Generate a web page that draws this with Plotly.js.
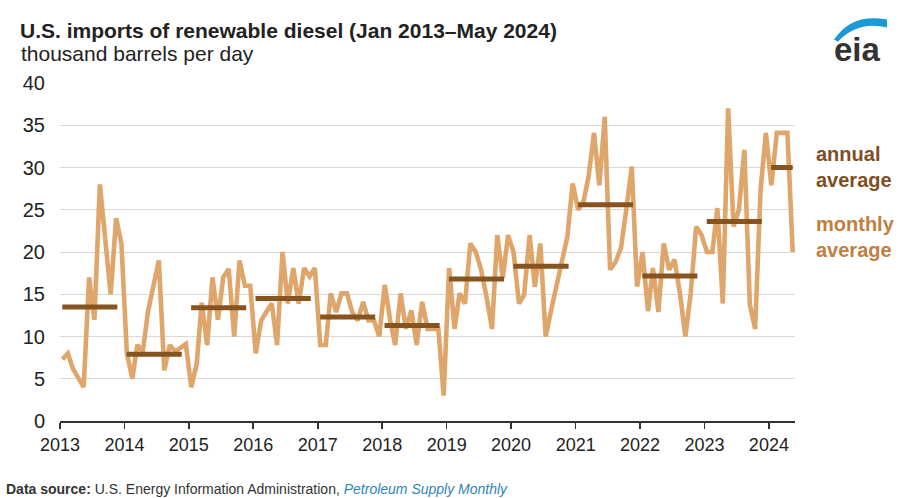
<!DOCTYPE html>
<html>
<head>
<meta charset="utf-8">
<script src="https://cdn.plot.ly/plotly-3.0.1.min.js"></script>
<style>
  html, body { margin: 0; padding: 0; background: #fff; }
  #chart { width: 915px; height: 498px; }
</style>
</head>
<body>
<div id="chart"></div>
<script>
// Monthly U.S. imports of renewable diesel, thousand barrels per day
const imports2013 = [7.3, 8, 6.2, 5, 4, 17, 12, 28, 21.5, 15, 24, 21];
const imports2014 = [8, 5, 9, 8.2, 13, 16, 19, 6, 9, 8.2, 8.6, 9.1];
const imports2015 = [4, 6.8, 14, 9, 17, 12, 17, 18, 10, 19, 16, 16];
const imports2016 = [8, 11.9, 12.9, 13.9, 9, 20, 13.9, 18.1, 13.9, 18.1, 17.1, 18.1];
const imports2017 = [9, 9, 15.1, 12.9, 15.1, 15.1, 12.9, 11.9, 14.1, 11.9, 11.9, 10];
const imports2018 = [16.1, 11.9, 9, 15.1, 10.9, 13.1, 9, 14.1, 10.9, 10.9, 10.9, 3];
const imports2019 = [18.1, 10.9, 15.1, 13.9, 21, 20, 17.9, 14.7, 10.9, 22, 16.9, 22];
const imports2020 = [20, 13.9, 14.9, 22, 15.9, 21, 10, 13.1, 16.1, 19.1, 21.8, 28.1];
const imports2021 = [25, 26, 28.9, 34.1, 27.9, 36, 17.9, 18.8, 20.5, 25, 30.1, 15.9];
const imports2022 = [20, 13, 18.1, 12.9, 21, 17.9, 19.1, 15.1, 10, 15.1, 23, 22];
const imports2023 = [20, 20, 25.2, 13.9, 37, 23, 25, 32.1, 13.8, 10.9, 27.4, 34.1];
const imports2024 = [27.9, 34.1, 34.1, 34.1, 20];

const years = [2013, 2014, 2015, 2016, 2017, 2018, 2019, 2020, 2021, 2022, 2023, 2024];
const monthlyByYear = [imports2013, imports2014, imports2015, imports2016, imports2017, imports2018,
                       imports2019, imports2020, imports2021, imports2022, imports2023, imports2024];
// Annual averages
const annualAvg = [13.5, 7.9, 13.4, 14.5, 12.3, 11.3, 16.8, 18.3, 25.6, 17.15, 23.6, 30.0];

const pad = n => (n < 10 ? '0' : '') + n;

const mx = [], my = [];
monthlyByYear.forEach((arr, yi) => {
  arr.forEach((v, i) => {
    mx.push(years[yi] + '-' + pad(i + 1) + '-15');
    my.push(v);
  });
});

const ax = [], ay = [];
years.forEach((y, yi) => {
  const n = monthlyByYear[yi].length;
  const end = n < 12 ? (y + '-' + pad(n) + '-15') : (y + '-11-22');
  ax.push(y + '-01-14', end, null);
  ay.push(annualAvg[yi], annualAvg[yi], null);
});

const FONT = 'Liberation Sans, Arial, Helvetica, sans-serif';
const L = 60, R = 120, T = 83.3, B = 77.3;
const W = 915, H = 498;
const pw = W - L - R, ph = H - T - B;
const px2x = px => (px - L) / pw;
const px2y = py => (H - B - py) / ph;

const traces = [
  {
    type: 'scatter', mode: 'lines', x: mx, y: my,
    line: { color: '#dfa66c', width: 4.6 },
    hoverinfo: 'skip'
  },
  {
    type: 'scatter', mode: 'lines', x: ax, y: ay,
    line: { color: '#87531f', width: 5 },
    connectgaps: false,
    hoverinfo: 'skip'
  }
];

const logoPath = 'M ' + px2x(834) + ',' + px2y(40) +
  ' Q ' + px2x(852) + ',' + px2y(13) + ' ' + px2x(887) + ',' + px2y(20) +
  ' L ' + px2x(887) + ',' + px2y(28) +
  ' Q ' + px2x(858) + ',' + px2y(21) + ' ' + px2x(838) + ',' + px2y(42) + ' Z';

const layout = {
  width: W, height: H,
  margin: { l: L, r: R, t: T, b: B, pad: 0 },
  paper_bgcolor: '#fff', plot_bgcolor: '#fff',
  showlegend: false,
  hovermode: false,
  font: { family: FONT, color: '#222' },
  title: {
    text: '<b>U.S. imports of renewable diesel (Jan 2013–May 2024)</b>',
    font: { family: FONT, size: 21, color: '#222' },
    xref: 'container', yref: 'container',
    x: 20 / W, xanchor: 'left',
    y: 1 - 31 / H, yanchor: 'middle'
  },
  xaxis: {
    type: 'date',
    range: ['2013-01-01', '2024-05-28'],
    tick0: '2013-01-01', dtick: 'M12', tickformat: '%Y',
    showgrid: false, zeroline: false,
    showline: true, linecolor: '#333', linewidth: 2,
    ticks: 'outside', ticklen: 6, tickwidth: 1.5, tickcolor: '#333',
    tickfont: { family: FONT, size: 18, color: '#222' },
    fixedrange: true
  },
  yaxis: {
    range: [0, 40], dtick: 5, tick0: 0,
    showgrid: true, gridcolor: '#d9d9d9', gridwidth: 1,
    zeroline: false, showline: false, ticks: '',
    ticklabelstandoff: 14,
    tickfont: { family: FONT, size: 20, color: '#222' },
    fixedrange: true
  },
  shapes: [
    { type: 'path', xref: 'paper', yref: 'paper', path: logoPath,
      fillcolor: '#1b9ad6', line: { width: 0 } }
  ],
  annotations: [
    { xref: 'paper', yref: 'paper', x: px2x(19), y: px2y(54), xanchor: 'left', yanchor: 'middle',
      text: 'thousand barrels per day', showarrow: false,
      font: { family: FONT, size: 21, color: '#222' } },
    { xref: 'paper', yref: 'paper', x: px2x(814), y: px2y(167), xanchor: 'left', yanchor: 'middle',
      text: '<b>annual<br>average</b>', showarrow: false, align: 'left',
      font: { family: FONT, size: 20, color: '#7f4f23' } },
    { xref: 'paper', yref: 'paper', x: px2x(814), y: px2y(237.5), xanchor: 'left', yanchor: 'middle',
      text: '<b>monthly<br>average</b>', showarrow: false, align: 'left',
      font: { family: FONT, size: 20, color: '#c08040' } },
    { xref: 'paper', yref: 'paper', x: px2x(4), y: px2y(489), xanchor: 'left', yanchor: 'middle',
      text: '<b>Data source:</b> U.S. Energy Information Administration, <i><span style="color:#2e86b5">Petroleum Supply Monthly</span></i>',
      showarrow: false,
      font: { family: FONT, size: 14, color: '#333' } },
    { xref: 'paper', yref: 'paper', x: px2x(857), y: px2y(50), xanchor: 'center', yanchor: 'middle',
      text: '<b>eia</b>', showarrow: false,
      font: { family: FONT, size: 33, color: '#333' } }
  ]
};

Plotly.newPlot('chart', traces, layout, { displayModeBar: false, staticPlot: true });
</script>
</body>
</html>
